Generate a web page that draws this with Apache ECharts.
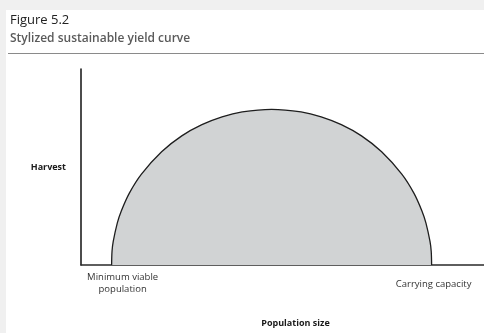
<!DOCTYPE html>
<html>
<head>
<meta charset="utf-8">
<script src="https://cdn.jsdelivr.net/npm/echarts@6/dist/echarts.min.js"></script>
<style>
  html, body { margin: 0; padding: 0; background: #f0f0f0; }
  #chart { width: 484px; height: 333px; }
</style>
</head>
<body>
<div id="chart"></div>
<script>
// Population size (0–100 scale) and sustainable harvest along the yield curve
const population = [7.6, 7.7, 8, 9, 10, 12, 15, 20, 25, 30, 35, 40, 47.3,
                    54.6, 59.6, 64.6, 69.6, 74.6, 79.6, 82.6, 84.6, 85.6, 86.6, 86.9, 87.0];
const harvest    = [0, 7, 12, 21.4, 27.6, 36.7, 46.4, 57.8, 65.9, 71.6, 75.6, 78.1, 79.4,
                    78.1, 75.6, 71.6, 65.9, 57.8, 46.4, 36.7, 27.6, 21.4, 12, 7, 0];

// Reference points marked under the horizontal axis
const markerValues = [7.6, 87.0];
const markerLabels = ['Minimum viable\npopulation', 'Carrying capacity'];

const FONT = '"Open Sans", "Noto Sans", sans-serif';

const chart = echarts.init(document.getElementById('chart'), null, { renderer: 'canvas' });

const curve = population.map((p, i) => [p, harvest[i]]);

chart.setOption({
  backgroundColor: '#f0f0f0',
  animation: false,
  grid: { left: 81, top: 69, right: 0, bottom: 58 },
  xAxis: {
    type: 'value', min: 0, max: 100,
    axisLine: { show: true, lineStyle: { color: '#2a2a2a', width: 1.5 } },
    axisTick: { show: false }, axisLabel: { show: false }, splitLine: { show: false },
    name: 'Population size', nameLocation: 'middle', nameGap: 54,
    nameTextStyle: { fontFamily: FONT, fontWeight: 'bold', fontSize: 9, color: '#1a1a1a', padding: [0, 0, 0, 26] }
  },
  yAxis: {
    type: 'value', min: 0, max: 100,
    axisLine: { show: true, lineStyle: { color: '#111', width: 1.5 } },
    axisTick: { show: false }, axisLabel: { show: false }, splitLine: { show: false },
    name: 'Harvest', nameLocation: 'middle', nameRotate: 0, nameGap: 15,
    nameTextStyle: { fontFamily: FONT, fontWeight: 'bold', fontSize: 9, color: '#1a1a1a', align: 'right' }
  },
  series: [{
    type: 'line',
    data: curve,
    smooth: 0.35,
    symbol: 'none',
    lineStyle: { color: '#1e1e1e', width: 1.3 },
    areaStyle: { color: '#d1d3d4', opacity: 1, origin: 'start' },
    z: 3
  }]
});

// Page furniture: white panel, figure number, title and rule
const furniture = [
  { type: 'rect', z: -10, shape: { x: 6, y: 10, width: 478, height: 323 }, style: { fill: '#ffffff' } },
  { type: 'text', left: 10, top: 14, style: { text: 'Figure 5.2', font: '13px ' + FONT, fill: '#222' } },
  { type: 'text', left: 10, top: 33, style: { text: 'Stylized sustainable yield curve', font: '600 12px ' + FONT, fill: '#5a5a5a' } },
  { type: 'line', shape: { x1: 8, y1: 53.5, x2: 484, y2: 53.5 }, style: { stroke: '#8a8a8a', lineWidth: 1.2 } }
];

// Labels under the axis, placed at their population values
const markerOffsets = [[11, 7], [2, 14]];
markerValues.forEach((v, i) => {
  const px = chart.convertToPixel({ gridIndex: 0 }, [v, 0]);
  furniture.push({
    type: 'text', x: px[0] + markerOffsets[i][0], y: px[1] + markerOffsets[i][1],
    style: { text: markerLabels[i], font: '9.5px ' + FONT, fill: '#333', align: 'center', verticalAlign: 'top', lineHeight: 11.5 }
  });
});

chart.setOption({ graphic: furniture });
</script>
</body>
</html>
